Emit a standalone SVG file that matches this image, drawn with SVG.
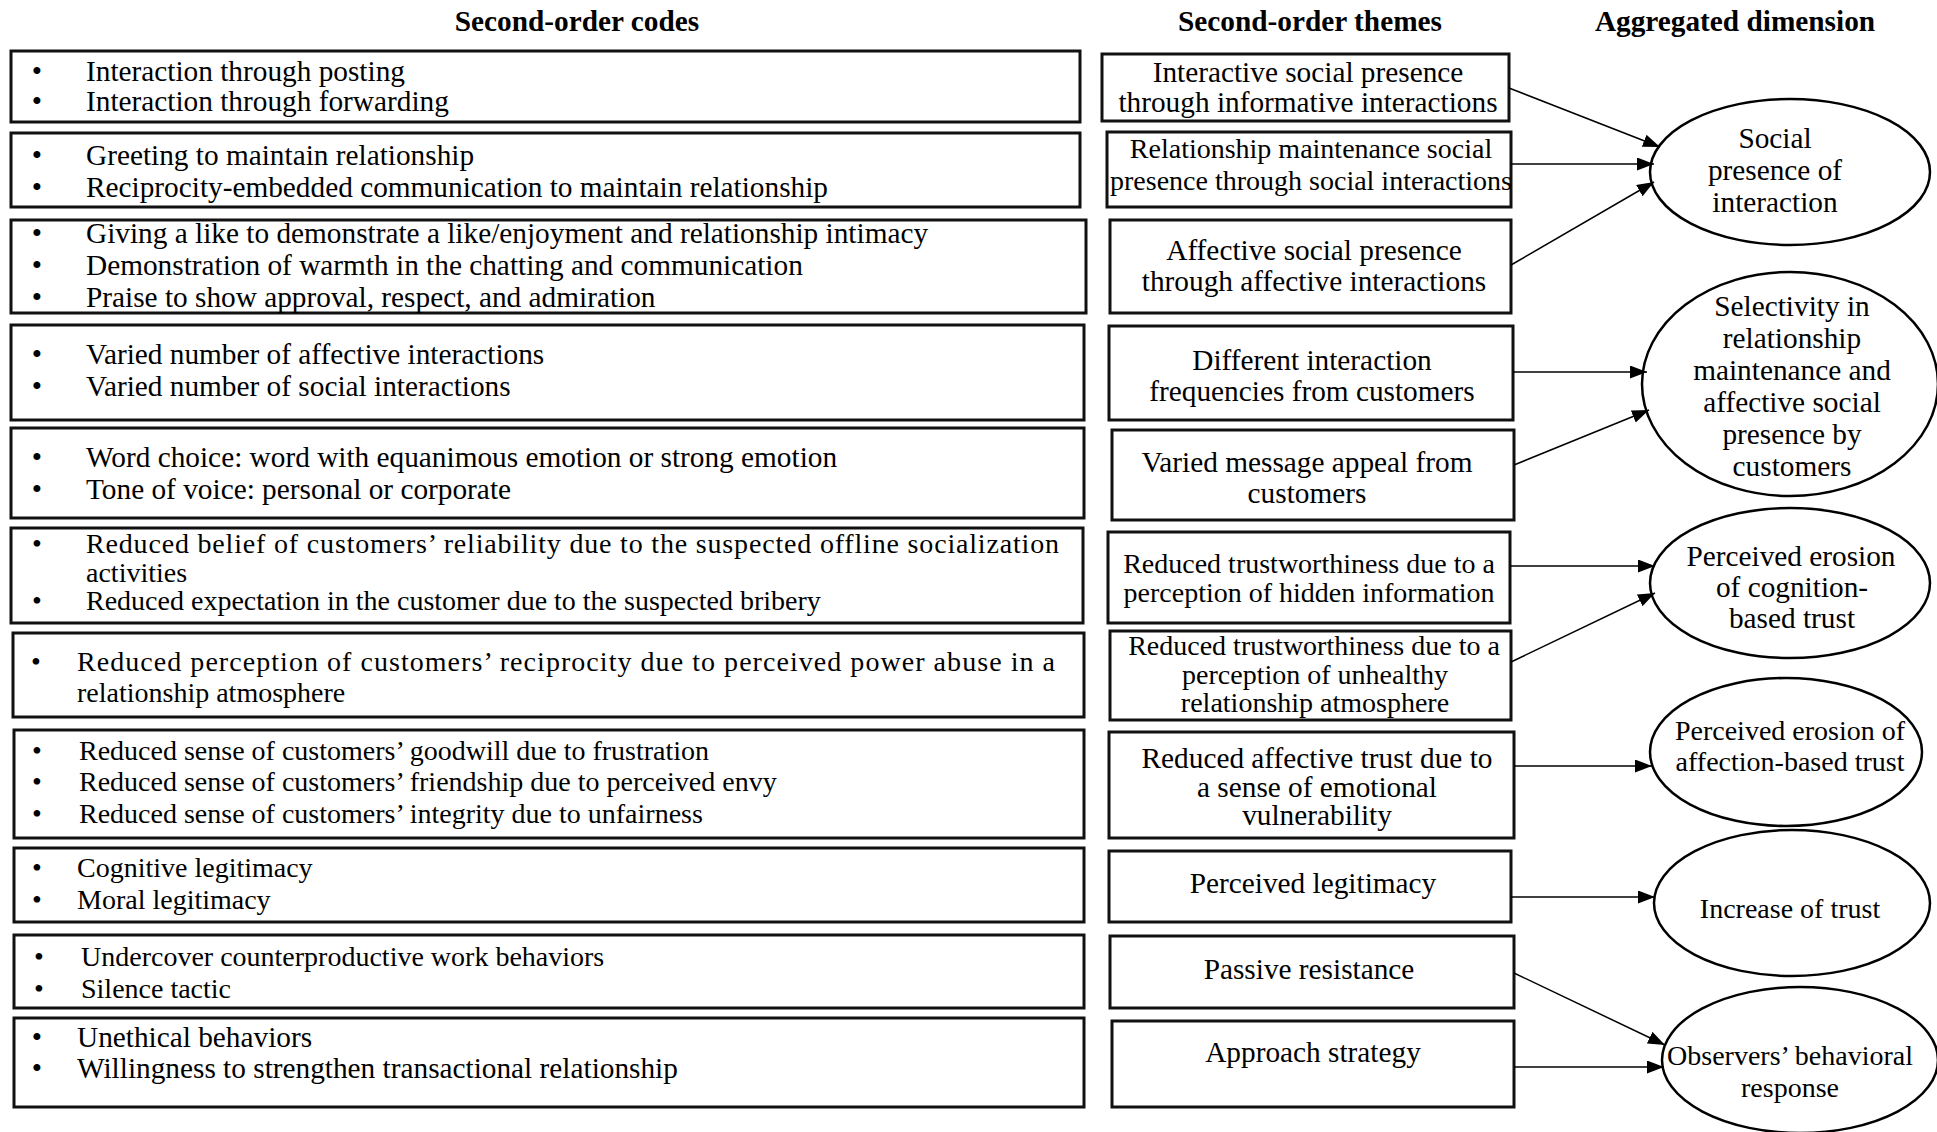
<svg xmlns="http://www.w3.org/2000/svg" width="1937" height="1132" viewBox="0 0 1937 1132">
<style>
text{font-family:"Liberation Serif","Times New Roman",serif;font-size:29.3px;fill:#000}
.s{font-size:28px}
.h{font-weight:bold;text-anchor:middle}
.c{text-anchor:middle}
.b{text-anchor:middle}
.box{fill:#fff;stroke:#111;stroke-width:3}
.ell{fill:#fff;stroke:#000;stroke-width:2.5}
.con line{stroke:#000;stroke-width:1.5;marker-end:url(#ah)}
</style>
<defs>
<marker id="ah" markerUnits="userSpaceOnUse" markerWidth="18" markerHeight="14" refX="17" refY="6.5" orient="auto">
<path d="M0,0 L17,6.5 L0,13 Z" fill="#000"/>
</marker>
</defs>
<rect width="1937" height="1132" fill="#fff"/>
<g id="headings">
<text class="h" x="577" y="31">Second-order codes</text>
<text class="h" x="1310" y="31">Second-order themes</text>
<text class="h" x="1735" y="31">Aggregated dimension</text>
</g>
<g id="code1"><rect class="box" x="11" y="51" width="1069" height="71"/>
<text class="b" x="37" y="81">•</text><text x="86" y="81">Interaction through posting</text>
<text class="b" x="37" y="111">•</text><text x="86" y="111">Interaction through forwarding</text></g>
<g id="code2"><rect class="box" x="11" y="133" width="1069" height="74"/>
<text class="b" x="37" y="165">•</text><text x="86" y="165">Greeting to maintain relationship</text>
<text class="b" x="37" y="197">•</text><text x="86" y="197">Reciprocity-embedded communication to maintain relationship</text></g>
<g id="code3"><rect class="box" x="11" y="220" width="1075" height="93"/>
<text class="b" x="37" y="243">•</text><text x="86" y="243">Giving a like to demonstrate a like/enjoyment and relationship intimacy</text>
<text class="b" x="37" y="275">•</text><text x="86" y="275">Demonstration of warmth in the chatting and communication</text>
<text class="b" x="37" y="307">•</text><text x="86" y="307">Praise to show approval, respect, and admiration</text></g>
<g id="code4"><rect class="box" x="11" y="325" width="1073" height="95"/>
<text class="b" x="37" y="364">•</text><text x="86" y="364">Varied number of affective interactions</text>
<text class="b" x="37" y="396">•</text><text x="86" y="396">Varied number of social interactions</text></g>
<g id="code5"><rect class="box" x="11" y="428" width="1073" height="90"/>
<text class="b" x="37" y="467">•</text><text x="86" y="467">Word choice: word with equanimous emotion or strong emotion</text>
<text class="b" x="37" y="499">•</text><text x="86" y="499">Tone of voice: personal or corporate</text></g>
<g id="code6" class="s"><rect class="box" x="11" y="528" width="1072" height="95"/>
<text class="b s" x="37" y="553">•</text><text class="s" x="86" y="553" textLength="973" lengthAdjust="spacing">Reduced belief of customers’ reliability due to the suspected offline socialization</text>
<text class="s" x="86" y="582">activities</text>
<text class="b s" x="37" y="610">•</text><text class="s" x="86" y="610">Reduced expectation in the customer due to the suspected bribery</text></g>
<g id="code7"><rect class="box" x="13" y="633" width="1071" height="84"/>
<text class="b s" x="36" y="671">•</text><text class="s" x="77" y="671" textLength="978" lengthAdjust="spacing">Reduced perception of customers’ reciprocity due to perceived power abuse in a</text>
<text class="s" x="77" y="702">relationship atmosphere</text></g>
<g id="code8"><rect class="box" x="14" y="730" width="1070" height="108"/>
<text class="b s" x="37" y="760">•</text><text class="s" x="79" y="760">Reduced sense of customers’ goodwill due to frustration</text>
<text class="b s" x="37" y="791">•</text><text class="s" x="79" y="791">Reduced sense of customers’ friendship due to perceived envy</text>
<text class="b s" x="37" y="823">•</text><text class="s" x="79" y="823">Reduced sense of customers’ integrity due to unfairness</text></g>
<g id="code9"><rect class="box" x="14" y="848" width="1070" height="74"/>
<text class="b s" x="37" y="877">•</text><text class="s" x="77" y="877">Cognitive legitimacy</text>
<text class="b s" x="37" y="909">•</text><text class="s" x="77" y="909">Moral legitimacy</text></g>
<g id="code10"><rect class="box" x="14" y="935" width="1070" height="73"/>
<text class="b s" x="39" y="966">•</text><text class="s" x="81" y="966">Undercover counterproductive work behaviors</text>
<text class="b s" x="39" y="998">•</text><text class="s" x="81" y="998">Silence tactic</text></g>
<g id="code11"><rect class="box" x="14" y="1018" width="1070" height="89"/>
<text class="b" x="37" y="1047">•</text><text x="77" y="1047">Unethical behaviors</text>
<text class="b" x="37" y="1078">•</text><text x="77" y="1078">Willingness to strengthen transactional relationship</text></g>

<g id="theme1"><rect class="box" x="1102" y="54" width="407" height="67"/>
<text class="c" x="1308" y="82">Interactive social presence</text>
<text class="c" x="1308" y="112">through informative interactions</text></g>
<g id="theme2"><rect class="box" x="1107" y="132" width="404" height="75"/>
<text class="c s" x="1311" y="158">Relationship maintenance social</text>
<text class="c s" x="1311" y="190">presence through social interactions</text></g>
<g id="theme3"><rect class="box" x="1110" y="220" width="401" height="93"/>
<text class="c" x="1314" y="260">Affective social presence</text>
<text class="c" x="1314" y="291">through affective interactions</text></g>
<g id="theme4"><rect class="box" x="1109" y="326" width="404" height="94"/>
<text class="c" x="1312" y="370">Different interaction</text>
<text class="c" x="1312" y="401">frequencies from customers</text></g>
<g id="theme5"><rect class="box" x="1112" y="430" width="402" height="90"/>
<text class="c" x="1307" y="472">Varied message appeal from</text>
<text class="c" x="1307" y="503">customers</text></g>
<g id="theme6"><rect class="box" x="1108" y="532" width="402" height="91"/>
<text class="c s" x="1309" y="573">Reduced trustworthiness due to a</text>
<text class="c s" x="1309" y="602">perception of hidden information</text></g>
<g id="theme7"><rect class="box" x="1110" y="631" width="401" height="89"/>
<text class="c s" x="1314" y="655">Reduced trustworthiness due to a</text>
<text class="c s" x="1315" y="684">perception of unhealthy</text>
<text class="c s" x="1315" y="712">relationship atmosphere</text></g>
<g id="theme8"><rect class="box" x="1109" y="732" width="405" height="106"/>
<text class="c" x="1317" y="768">Reduced affective trust due to</text>
<text class="c" x="1317" y="797">a sense of emotional</text>
<text class="c" x="1317" y="825">vulnerability</text></g>
<g id="theme9"><rect class="box" x="1109" y="851" width="402" height="71"/>
<text class="c" x="1313" y="893">Perceived legitimacy</text></g>
<g id="theme10"><rect class="box" x="1110" y="936" width="404" height="72"/>
<text class="c" x="1309" y="979">Passive resistance</text></g>
<g id="theme11"><rect class="box" x="1112" y="1021" width="402" height="86"/>
<text class="c" x="1313" y="1062">Approach strategy</text></g>

<g id="dim1"><ellipse class="ell" cx="1790" cy="172" rx="140" ry="73"/>
<text class="c" x="1775" y="148">Social</text>
<text class="c" x="1775" y="180">presence of</text>
<text class="c" x="1775" y="212">interaction</text></g>
<g id="dim2"><ellipse class="ell" cx="1790" cy="384" rx="148" ry="112"/>
<text class="c" x="1792" y="316">Selectivity in</text>
<text class="c" x="1792" y="348">relationship</text>
<text class="c" x="1792" y="380">maintenance and</text>
<text class="c" x="1792" y="412">affective social</text>
<text class="c" x="1792" y="444">presence by</text>
<text class="c" x="1792" y="476">customers</text></g>
<g id="dim3"><ellipse class="ell" cx="1790" cy="583" rx="140" ry="75"/>
<text class="c" x="1791" y="566">Perceived erosion</text>
<text class="c" x="1792" y="597">of cognition-</text>
<text class="c" x="1792" y="628">based trust</text></g>
<g id="dim4"><ellipse class="ell" cx="1786" cy="752" rx="136" ry="74"/>
<text class="c s" x="1790" y="740">Perceived erosion of</text>
<text class="c s" x="1790" y="771">affection-based trust</text></g>
<g id="dim5"><ellipse class="ell" cx="1792" cy="903" rx="138" ry="73"/>
<text class="c s" x="1790" y="918">Increase of trust</text></g>
<g id="dim6"><ellipse class="ell" cx="1800" cy="1060" rx="138" ry="73"/>
<text class="c s" x="1790" y="1065">Observers’ behavioral</text>
<text class="c s" x="1790" y="1097">response</text></g>

<g id="connectors" class="con">
<line x1="1509" y1="88" x2="1660" y2="147"/>
<line x1="1511" y1="164" x2="1654" y2="164"/>
<line x1="1511" y1="265" x2="1654" y2="182"/>
<line x1="1513" y1="372" x2="1647" y2="372"/>
<line x1="1514" y1="465" x2="1649" y2="410"/>
<line x1="1510" y1="566" x2="1655" y2="566"/>
<line x1="1511" y1="662" x2="1655" y2="593"/>
<line x1="1514" y1="766" x2="1652" y2="766"/>
<line x1="1511" y1="897" x2="1655" y2="897"/>
<line x1="1514" y1="973" x2="1665" y2="1045"/>
<line x1="1514" y1="1067" x2="1664" y2="1067"/>
</g>
</svg>
